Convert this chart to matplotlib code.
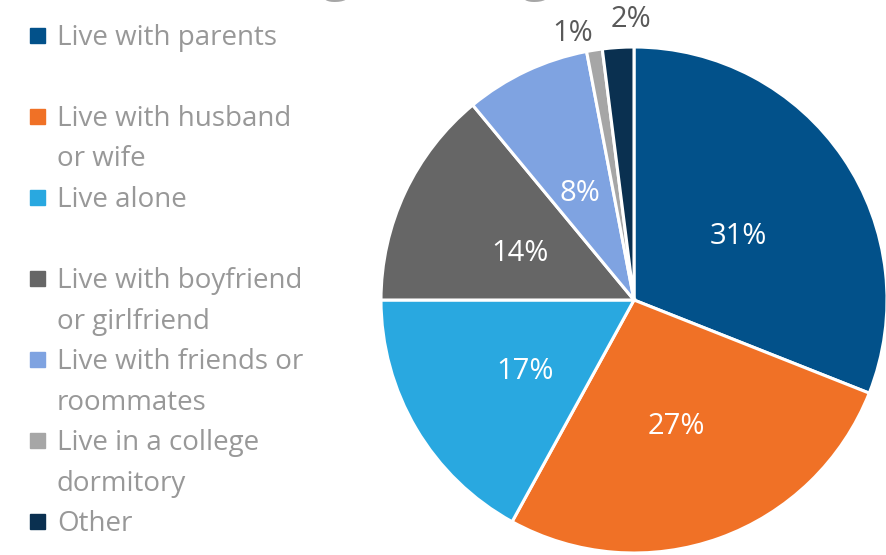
# Living arrangements pie chart
import matplotlib.pyplot as plt
import numpy as np

# Data
categories = ['Live with parents', 'Live with husband\nor wife', 'Live alone',
              'Live with boyfriend\nor girlfriend', 'Live with friends or\nroommates',
              'Live in a college\ndormitory', 'Other']
values = [31, 27, 17, 14, 8, 1, 2]
colors = ['#02518A', '#F07126', '#29A8E0', '#666666', '#7FA3E1', '#A6A6A6', '#0A3050']
# blank line after these entries in the legend
gap_after = [True, False, True, False, False, False, False]

plt.rcParams['font.family'] = ['Open Sans', 'DejaVu Sans']

fig = plt.figure(figsize=(8.87, 5.55), dpi=100)
W, H = 887, 555

# pie centre (634, 300) px, radius 253 px
cx, cy, R = 634, 300, 253
ax = fig.add_axes([(cx - R) / W, (H - cy - R) / H, 2 * R / W, 2 * R / H])
wedges, texts, autotexts = ax.pie(values, colors=colors, startangle=90, counterclock=False,
                                  radius=1, autopct='%d%%', pctdistance=0.5,
                                  wedgeprops=dict(edgecolor='white', linewidth=2.2),
                                  textprops=dict(color='white', fontsize=21))
ax.set_xlim(-1, 1)
ax.set_ylim(-1, 1)
ax.set_aspect('equal')

# inner labels sit a little lower in the reference
for t in autotexts[:5]:
    x, y = t.get_position()
    t.set_position((x, y - 0.03))

# small slices get their labels outside, nudged apart
for i, (ang_shift, dist) in {5: (4, 1.08), 6: (-3, 1.11)}.items():
    w = wedges[i]
    mid = np.deg2rad((w.theta1 + w.theta2) / 2 + ang_shift)
    t = autotexts[i]
    t.set_position((dist * np.cos(mid), dist * np.sin(mid)))
    t.set_color('#595959')
    t.set_clip_on(False)

# legend drawn by hand, one text per line
line_h = 40.5
y = 45
for cat, col, gap in zip(categories, colors, gap_after):
    fig.patches.append(plt.Rectangle((30 / W, 1 - (y - 2) / H), 15 / W, 15 / H,
                                     transform=fig.transFigure, color=col))
    for line in cat.split('\n'):
        fig.text(57 / W, 1 - y / H, line, fontsize=20, color='#989898', va='baseline')
        y += line_h
    if gap:
        y += line_h

# title, mostly cut off above the picture
fig.text(196 / W, 1.021, 'Living Arrangements', fontsize=42, color='#A6A6A6', va='baseline')

plt.savefig('out.png', dpi=100)
